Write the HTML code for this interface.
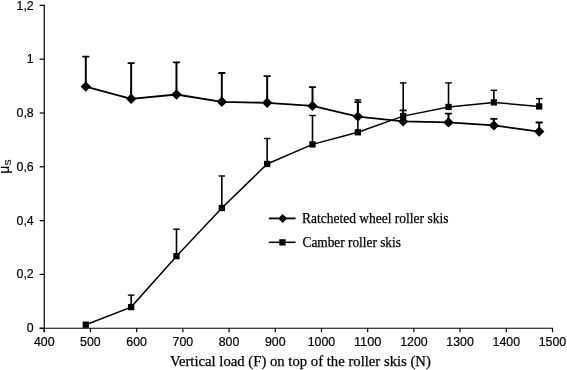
<!DOCTYPE html>
<html><head><meta charset="utf-8"><title>chart</title>
<style>
html,body{margin:0;padding:0;background:#fff;}
body{width:567px;height:370px;overflow:hidden;}
svg{display:block;will-change:transform;opacity:0.9999;}
text{font-family:"Liberation Sans",sans-serif;fill:#000;stroke:#000;stroke-width:0.2px;}
.se{font-family:"Liberation Serif",serif;stroke:#000;stroke-width:0.25px;}
</style></head><body>
<svg width="567" height="370" viewBox="0 0 567 370">
<rect width="567" height="370" fill="#fff"/>

<g stroke="#000" stroke-width="1.2" fill="none">
<path d="M44.25 4.85V332.25"/>
<path d="M39.65 328.25H553.0"/>
<path d="M39.65 5.35H44.25"/>
<path d="M39.65 59.17H44.25"/>
<path d="M39.65 112.98H44.25"/>
<path d="M39.65 166.80H44.25"/>
<path d="M39.65 220.62H44.25"/>
<path d="M39.65 274.43H44.25"/>
<path d="M39.65 328.25H44.25"/>
<path d="M44.25 328.25V332.25"/>
<path d="M90.45 328.25V332.25"/>
<path d="M136.66 328.25V332.25"/>
<path d="M182.86 328.25V332.25"/>
<path d="M229.07 328.25V332.25"/>
<path d="M275.27 328.25V332.25"/>
<path d="M321.48 328.25V332.25"/>
<path d="M367.68 328.25V332.25"/>
<path d="M413.89 328.25V332.25"/>
<path d="M460.09 328.25V332.25"/>
<path d="M506.30 328.25V332.25"/>
<path d="M552.50 328.25V332.25"/>
</g>
<g font-size="12.0" text-anchor="end">
<text x="33.7" y="10.05" textLength="17.18" lengthAdjust="spacingAndGlyphs">1,2</text>
<text x="33.7" y="63.17" textLength="6.87" lengthAdjust="spacingAndGlyphs">1</text>
<text x="33.7" y="116.98" textLength="17.18" lengthAdjust="spacingAndGlyphs">0,8</text>
<text x="33.7" y="170.80" textLength="17.18" lengthAdjust="spacingAndGlyphs">0,6</text>
<text x="33.7" y="224.62" textLength="17.18" lengthAdjust="spacingAndGlyphs">0,4</text>
<text x="33.7" y="278.43" textLength="17.18" lengthAdjust="spacingAndGlyphs">0,2</text>
<text x="33.7" y="332.25" textLength="6.87" lengthAdjust="spacingAndGlyphs">0</text>
</g>
<g font-size="12.0" text-anchor="middle">
<text x="44.25" y="346.0" textLength="20.62" lengthAdjust="spacingAndGlyphs">400</text>
<text x="90.45" y="346.0" textLength="20.62" lengthAdjust="spacingAndGlyphs">500</text>
<text x="136.66" y="346.0" textLength="20.62" lengthAdjust="spacingAndGlyphs">600</text>
<text x="182.86" y="346.0" textLength="20.62" lengthAdjust="spacingAndGlyphs">700</text>
<text x="229.07" y="346.0" textLength="20.62" lengthAdjust="spacingAndGlyphs">800</text>
<text x="275.27" y="346.0" textLength="20.62" lengthAdjust="spacingAndGlyphs">900</text>
<text x="321.48" y="346.0" textLength="27.49" lengthAdjust="spacingAndGlyphs">1000</text>
<text x="367.68" y="346.0" textLength="27.49" lengthAdjust="spacingAndGlyphs">1100</text>
<text x="413.89" y="346.0" textLength="27.49" lengthAdjust="spacingAndGlyphs">1200</text>
<text x="460.09" y="346.0" textLength="27.49" lengthAdjust="spacingAndGlyphs">1300</text>
<text x="506.30" y="346.0" textLength="27.49" lengthAdjust="spacingAndGlyphs">1400</text>
<text x="552.50" y="346.0" textLength="27.49" lengthAdjust="spacingAndGlyphs">1500</text>
</g>
<g stroke="#000" fill="none">
<path d="M131.14 307.10V294.90" stroke-width="1.6"/><path d="M127.84 295.10H134.44" stroke-width="1.4" stroke-linecap="butt"/>
<path d="M176.48 256.20V229.00" stroke-width="1.6"/><path d="M173.18 229.20H179.78" stroke-width="1.4" stroke-linecap="butt"/>
<path d="M221.82 208.00V175.80" stroke-width="1.6"/><path d="M218.52 176.00H225.12" stroke-width="1.4" stroke-linecap="butt"/>
<path d="M267.16 164.00V138.30" stroke-width="1.6"/><path d="M263.86 138.50H270.46" stroke-width="1.4" stroke-linecap="butt"/>
<path d="M312.50 144.40V115.30" stroke-width="1.6"/><path d="M309.20 115.50H315.80" stroke-width="1.4" stroke-linecap="butt"/>
<path d="M357.84 132.30V99.70" stroke-width="1.6"/><path d="M354.54 99.90H361.14" stroke-width="1.4" stroke-linecap="butt"/>
<path d="M403.18 116.10V82.70" stroke-width="1.6"/><path d="M399.88 82.90H406.48" stroke-width="1.4" stroke-linecap="butt"/>
<path d="M448.52 107.00V82.70" stroke-width="1.6"/><path d="M445.22 82.90H451.82" stroke-width="1.4" stroke-linecap="butt"/>
<path d="M493.86 102.40V90.10" stroke-width="1.6"/><path d="M490.56 90.30H497.16" stroke-width="1.4" stroke-linecap="butt"/>
<path d="M539.20 106.40V98.40" stroke-width="1.6"/><path d="M535.90 98.60H542.50" stroke-width="1.4" stroke-linecap="butt"/>
<polyline stroke-width="1.5" points="85.80,324.70 131.14,307.10 176.48,256.20 221.82,208.00 267.16,164.00 312.50,144.40 357.84,132.30 403.18,116.10 448.52,107.00 493.86,102.40 539.20,106.40"/>
<path d="M85.80 86.60V56.50" stroke-width="2.0"/><path d="M83.00 56.70H88.60" stroke-width="1.8" stroke-linecap="round"/>
<path d="M131.14 98.80V62.90" stroke-width="2.0"/><path d="M128.34 63.10H133.94" stroke-width="1.8" stroke-linecap="round"/>
<path d="M176.48 94.50V62.10" stroke-width="2.0"/><path d="M173.68 62.30H179.28" stroke-width="1.8" stroke-linecap="round"/>
<path d="M221.82 101.80V72.80" stroke-width="2.0"/><path d="M219.02 73.00H224.62" stroke-width="1.8" stroke-linecap="round"/>
<path d="M267.16 102.80V76.00" stroke-width="2.0"/><path d="M264.36 76.20H269.96" stroke-width="1.8" stroke-linecap="round"/>
<path d="M312.50 105.90V86.90" stroke-width="2.0"/><path d="M309.70 87.10H315.30" stroke-width="1.8" stroke-linecap="round"/>
<path d="M357.84 116.60V101.90" stroke-width="2.0"/><path d="M355.04 102.10H360.64" stroke-width="1.8" stroke-linecap="round"/>
<path d="M403.18 121.40V110.20" stroke-width="2.0"/><path d="M400.38 110.40H405.98" stroke-width="1.8" stroke-linecap="round"/>
<path d="M448.52 122.40V113.40" stroke-width="2.0"/><path d="M445.72 113.60H451.32" stroke-width="1.8" stroke-linecap="round"/>
<path d="M493.86 125.40V118.70" stroke-width="2.0"/><path d="M491.06 118.90H496.66" stroke-width="1.8" stroke-linecap="round"/>
<path d="M539.20 131.60V122.30" stroke-width="2.0"/><path d="M536.40 122.50H542.00" stroke-width="1.8" stroke-linecap="round"/>
<polyline stroke-width="1.8" stroke-linejoin="round" points="85.80,86.60 131.14,98.80 176.48,94.50 221.82,101.80 267.16,102.80 312.50,105.90 357.84,116.60 403.18,121.40 448.52,122.40 493.86,125.40 539.20,131.60"/>
</g>
<g fill="#000">
<rect x="82.65" y="321.55" width="6.3" height="6.3"/>
<rect x="127.99" y="303.95" width="6.3" height="6.3"/>
<rect x="173.33" y="253.05" width="6.3" height="6.3"/>
<rect x="218.67" y="204.85" width="6.3" height="6.3"/>
<rect x="264.01" y="160.85" width="6.3" height="6.3"/>
<rect x="309.35" y="141.25" width="6.3" height="6.3"/>
<rect x="354.69" y="129.15" width="6.3" height="6.3"/>
<rect x="400.03" y="112.95" width="6.3" height="6.3"/>
<rect x="445.37" y="103.85" width="6.3" height="6.3"/>
<rect x="490.71" y="99.25" width="6.3" height="6.3"/>
<rect x="536.05" y="103.25" width="6.3" height="6.3"/>
<path d="M85.80 81.40L91.00 86.60L85.80 91.80L80.60 86.60Z"/>
<path d="M131.14 93.60L136.34 98.80L131.14 104.00L125.94 98.80Z"/>
<path d="M176.48 89.30L181.68 94.50L176.48 99.70L171.28 94.50Z"/>
<path d="M221.82 96.60L227.02 101.80L221.82 107.00L216.62 101.80Z"/>
<path d="M267.16 97.60L272.36 102.80L267.16 108.00L261.96 102.80Z"/>
<path d="M312.50 100.70L317.70 105.90L312.50 111.10L307.30 105.90Z"/>
<path d="M357.84 111.40L363.04 116.60L357.84 121.80L352.64 116.60Z"/>
<path d="M403.18 116.20L408.38 121.40L403.18 126.60L397.98 121.40Z"/>
<path d="M448.52 117.20L453.72 122.40L448.52 127.60L443.32 122.40Z"/>
<path d="M493.86 120.20L499.06 125.40L493.86 130.60L488.66 125.40Z"/>
<path d="M539.20 126.40L544.40 131.60L539.20 136.80L534.00 131.60Z"/>
</g>
<g stroke="#000" fill="none"><path d="M268.9 218.4H295.6" stroke-width="1.8"/><path d="M268.9 242.3H295.6" stroke-width="1.5"/></g>
<path d="M282.6 213.9L287.1 218.4L282.6 222.9L278.1 218.4Z" fill="#000"/>
<rect x="279.3" y="239.2" width="6.3" height="6.3" fill="#000"/>
<text class="se" font-size="14" x="302.1" y="222.6" textLength="146.3" lengthAdjust="spacingAndGlyphs">Ratcheted wheel roller skis</text>
<text class="se" font-size="14" x="302.5" y="246.6" textLength="98.4" lengthAdjust="spacingAndGlyphs">Camber roller skis</text>
<text class="se" font-size="15.5" x="169.9" y="366.1" textLength="261" lengthAdjust="spacingAndGlyphs">Vertical load (F) on top of the roller skis (N)</text>
<g transform="translate(8.5 173.8) rotate(-90)"><text font-size="14" x="0" y="0">μ</text><text font-size="9" x="8.4" y="2.6" stroke-width="0.35">S</text></g>
</svg></body></html>
